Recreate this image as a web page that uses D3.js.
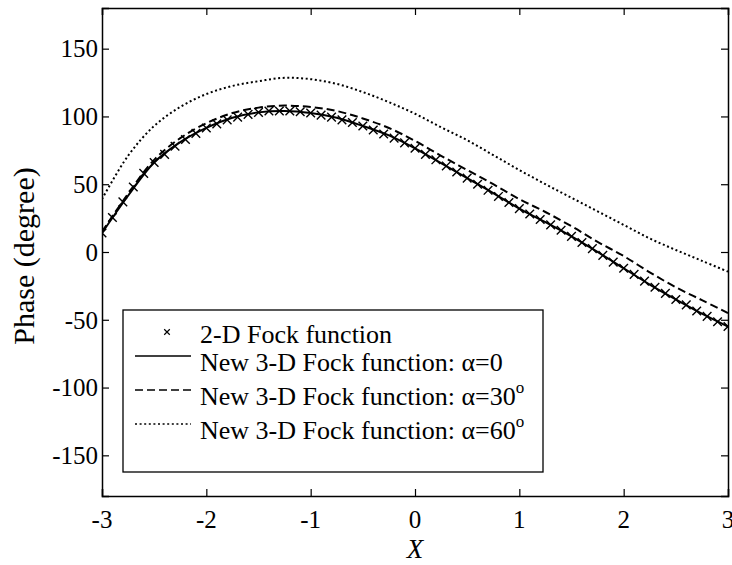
<!DOCTYPE html>
<html>
<head>
<meta charset="utf-8">
<style>
  body { margin: 0; background: #fff; }
</style>
</head>
<body>
<script src="https://cdn.jsdelivr.net/npm/d3@7"></script>
<script>
// curve abscissae
var xs = [-3, -2.75, -2.5, -2.25, -2, -1.75, -1.5, -1.25, -1, -0.75, -0.5, -0.25, 0,
          0.25, 0.5, 0.75, 1, 1.25, 1.5, 1.75, 2, 2.25, 2.5, 2.75, 3];
// New 3-D Fock function, alpha = 0
var alpha0 = [14, 41.5, 66, 81, 91.5, 99, 103, 104, 102.5, 99, 93, 86, 76.5,
              65.5, 54.5, 43.5, 32, 22, 11.5, 0, -12, -24, -35, -45.5, -55];
// alpha = 30 deg
var alpha30 = [15, 43, 68, 84, 95, 102.5, 106.5, 108, 107, 104, 98.5, 91.5, 82,
               71, 60.5, 50, 39, 29.5, 19, 7.5, -3, -15, -26, -35.5, -45];
// alpha = 60 deg
var alpha60 = [39, 71, 93, 107, 116.5, 122.5, 126, 128.5, 127.5, 124, 118, 110.5, 102,
               92, 82.5, 71.5, 60.5, 50, 40, 30, 20, 10, 1.5, -6.5, -14.5];

// 2-D Fock function samples (markers)
var fockX = [-3, -2.9, -2.8, -2.7, -2.6, -2.5, -2.4, -2.3, -2.2, -2.1, -2, -1.9, -1.8, -1.7, -1.6,
             -1.5, -1.4, -1.3, -1.2, -1.1, -1, -0.9, -0.8, -0.7, -0.6, -0.5, -0.4, -0.3, -0.2, -0.1,
             0, 0.1, 0.2, 0.3, 0.4, 0.5, 0.6, 0.7, 0.8, 0.9, 1, 1.1, 1.2, 1.3, 1.4,
             1.5, 1.6, 1.7, 1.8, 1.9, 2, 2.1, 2.2, 2.3, 2.4, 2.5, 2.6, 2.7, 2.8, 2.9, 3];
var fockY = [14, 25.5, 37, 48, 58, 66, 72, 78, 83, 87.5, 91.5, 94.5, 97.5, 99.5, 101.5,
             103, 104, 104, 104, 103.5, 102.5, 101, 99.5, 97.5, 95.5, 93, 90, 87, 84, 80.5,
             76.5, 72, 68, 63.5, 59, 54.5, 50, 45.5, 41, 36.5, 32, 28, 24, 20, 16,
             11.5, 7, 2.5, -2.5, -7.5, -12, -16.5, -21.5, -26, -30.5, -35, -39, -43.5, -47.5, -51.5, -55];

var xTicks = [-3, -2, -1, 0, 1, 2, 3];
var yTicks = [-150, -100, -50, 0, 50, 100, 150];

var W = 732, H = 565;
var L = 102, R = 728, T = 8, B = 496;
var serif = "Liberation Serif, Times New Roman, DejaVu Serif, serif";

var svg = d3.select("body").append("svg")
  .attr("width", W).attr("height", H)
  .style("font-family", serif);

svg.append("rect").attr("width", W).attr("height", H).attr("fill", "#fff");

var x = d3.scaleLinear().domain([-3, 3]).range([L, R]);
var y = d3.scaleLinear().domain([-180, 180]).range([B, T]);

// box with inward ticks on all four sides
var tl = 7;
svg.append("g").attr("transform", "translate(0," + B + ")")
  .call(d3.axisBottom(x).tickValues(xTicks).tickSize(-tl).tickFormat(""));
svg.append("g").attr("transform", "translate(0," + T + ")")
  .call(d3.axisTop(x).tickValues(xTicks).tickSize(-tl).tickFormat(""));
svg.append("g").attr("transform", "translate(" + L + ",0)")
  .call(d3.axisLeft(y).tickValues(yTicks).tickSize(-tl).tickFormat(""));
svg.append("g").attr("transform", "translate(" + R + ",0)")
  .call(d3.axisRight(y).tickValues(yTicks).tickSize(-tl).tickFormat(""));
svg.selectAll(".domain").attr("stroke", "#000").attr("stroke-width", 1.5);
svg.selectAll(".tick line").attr("stroke", "#000").attr("stroke-width", 1.2);

// tick labels
svg.selectAll(".xlab").data(xTicks).enter().append("text")
  .attr("x", function(d) { return x(d); })
  .attr("y", 528)
  .attr("text-anchor", "middle")
  .attr("font-family", serif)
  .attr("font-size", 25)
  .text(function(d) { return d; });
svg.selectAll(".ylab").data(yTicks).enter().append("text")
  .attr("x", 98)
  .attr("y", function(d) { return y(d); })
  .attr("dy", "0.35em")
  .attr("text-anchor", "end")
  .attr("font-family", serif)
  .attr("font-size", 25)
  .text(function(d) { return d; });

svg.append("text")
  .attr("x", x(0)).attr("y", 558)
  .attr("text-anchor", "middle")
  .attr("font-family", serif)
  .attr("font-size", 27).attr("font-style", "italic")
  .text("X");
svg.append("text")
  .attr("transform", "translate(34,256) rotate(-90)")
  .attr("text-anchor", "middle")
  .attr("font-family", serif)
  .attr("font-size", 30)
  .text("Phase (degree)");

// curves
svg.append("clipPath").attr("id", "clip")
  .append("rect").attr("x", L).attr("y", T).attr("width", R - L).attr("height", B - T);

var line = d3.line()
  .x(function(d) { return x(d[0]); })
  .y(function(d) { return y(d[1]); })
  .curve(d3.curveCatmullRom);

var series = [
  { vals: alpha60, dash: "2,2.6" },
  { vals: alpha30, dash: "8,4" },
  { vals: alpha0, dash: null }
];
var plot = svg.append("g").attr("clip-path", "url(#clip)");
series.forEach(function(s) {
  plot.append("path")
    .datum(xs.map(function(v, i) { return [v, s.vals[i]]; }))
    .attr("d", line)
    .attr("fill", "none")
    .attr("stroke", "#000")
    .attr("stroke-width", 2)
    .attr("stroke-dasharray", s.dash);
});

var cross = d3.symbol().type(d3.symbolX).size(50);
plot.selectAll(".fock").data(fockX).enter().append("path")
  .attr("d", cross)
  .attr("transform", function(d, i) { return "translate(" + x(d) + "," + y(fockY[i]) + ")"; })
  .attr("fill", "none")
  .attr("stroke", "#000")
  .attr("stroke-width", 1.4);

// legend
var leg = svg.append("g");
leg.append("rect")
  .attr("x", 123).attr("y", 310).attr("width", 420).attr("height", 162)
  .attr("fill", "#fff").attr("stroke", "#000").attr("stroke-width", 1.3);

var rows = [
  { y: 334, label: "2-D Fock function", sup: null, type: "mark" },
  { y: 362, label: "New 3-D Fock function: \u03b1=0", sup: null, dash: null },
  { y: 396, label: "New 3-D Fock function: \u03b1=30", sup: "o", dash: "8,4" },
  { y: 430, label: "New 3-D Fock function: \u03b1=60", sup: "o", dash: "2,2.6" }
];
rows.forEach(function(r) {
  if (r.type === "mark") {
    leg.append("path")
      .attr("d", d3.symbol().type(d3.symbolX).size(22))
      .attr("transform", "translate(167," + (r.y - 2) + ")")
      .attr("fill", "none").attr("stroke", "#000").attr("stroke-width", 1.2);
  } else {
    leg.append("line")
      .attr("x1", 135).attr("x2", 191).attr("y1", r.y - 6).attr("y2", r.y - 6)
      .attr("stroke", "#000").attr("stroke-width", 1.5)
      .attr("stroke-dasharray", r.dash);
  }
  var t = leg.append("text")
    .attr("x", 200).attr("y", r.y + 9)
    .attr("font-family", serif)
    .attr("font-size", 26)
    .text(r.label);
  if (r.sup) {
    t.append("tspan").attr("dy", -12).attr("font-size", 17).text(r.sup);
  }
});
</script>
</body>
</html>
